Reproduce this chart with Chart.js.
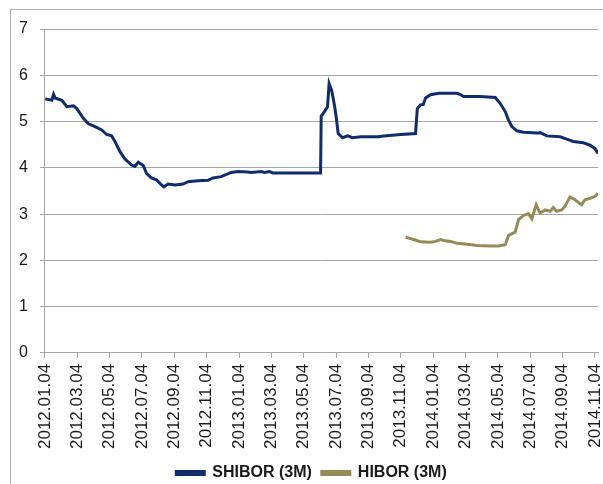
<!DOCTYPE html>
<html>
<head>
<meta charset="utf-8">
<script src="https://cdn.jsdelivr.net/npm/chart.js@4/dist/chart.umd.min.js"></script>
<style>
    body { margin: 0; background: #fff; }
    #frame { position: absolute; left: 10px; top: 9px; width: 620px; height: 500px; border: 1px solid #b0b0b0; }
    #wrap { position: absolute; left: 0; top: 0; width: 603px; height: 484px; }
</style>
</head>
<body>
<div id="frame"></div>
<div id="wrap"><canvas id="rateChart" width="603" height="484"></canvas></div>
<script>
// Tick labels on the date axis, one every two months
const tickLabels = ['2012.01.04', '2012.03.04', '2012.05.04', '2012.07.04', '2012.09.04', '2012.11.04',
    '2013.01.04', '2013.03.04', '2013.05.04', '2013.07.04', '2013.09.04', '2013.11.04',
    '2014.01.04', '2014.03.04', '2014.05.04', '2014.07.04', '2014.09.04', '2014.11.04'];

// SHIBOR (3M): months since 2012.01.04 and rate in %
const shiborMonths = [0.02, 0.43, 0.54, 0.63, 1.05, 1.36, 1.77, 1.97, 2.38, 2.69, 3.10, 3.51, 3.82, 4.12, 4.33,
    4.64, 4.95, 5.36, 5.56, 5.77, 6.08, 6.28, 6.59, 6.90, 7.21, 7.35, 7.62, 8.03, 8.54, 8.85, 9.47, 10.08,
    10.39, 10.90, 11.52, 11.93, 12.55, 12.75, 13.37, 13.57, 13.88, 14.09, 16.96, 17.04, 17.08, 17.27, 17.47,
    17.57, 17.72, 17.88, 17.99, 18.13, 18.40, 18.71, 19.01, 19.53, 20.65, 20.96, 21.99, 22.91, 23.02, 23.22,
    23.39, 23.53, 23.84, 24.35, 25.48, 25.69, 25.89, 26.92, 27.84, 28.15, 28.46, 28.66, 28.87, 29.18, 29.58,
    30.41, 30.61, 31.03, 31.85, 32.26, 32.66, 33.28, 33.69, 34.00, 34.19];
const shiborRates = [5.49, 5.46, 5.59, 5.51, 5.46, 5.32, 5.34, 5.28, 5.07, 4.95, 4.89, 4.82, 4.72, 4.69, 4.57,
    4.35, 4.19, 4.06, 4.03, 4.12, 4.05, 3.88, 3.78, 3.74, 3.63, 3.59, 3.65, 3.63, 3.65, 3.70, 3.72, 3.73,
    3.78, 3.81, 3.90, 3.92, 3.91, 3.90, 3.92, 3.90, 3.92, 3.89, 3.89, 3.89, 5.12, 5.21, 5.32,
    5.82, 5.68, 5.39, 5.14, 4.74, 4.65, 4.69, 4.65, 4.67, 4.67, 4.69, 4.72, 4.74, 5.28, 5.36,
    5.37, 5.51, 5.58, 5.61, 5.61, 5.58, 5.54, 5.54, 5.52, 5.39, 5.21, 5.03, 4.89, 4.80, 4.77,
    4.75, 4.76, 4.69, 4.67, 4.62, 4.57, 4.54, 4.49, 4.42, 4.31];

// HIBOR (3M)
const hiborMonths = [22.30, 22.61, 22.91, 23.22, 23.84, 24.15, 24.45, 24.66, 25.07, 25.48, 26.10, 26.71, 27.53,
    28.04, 28.46, 28.66, 29.07, 29.28, 29.58, 29.89, 30.10, 30.37, 30.61, 30.92, 31.23, 31.43, 31.64, 31.95,
    32.15, 32.46, 32.77, 33.18, 33.38, 33.69, 34.00, 34.19];
const hiborRates = [2.50, 2.47, 2.44, 2.40, 2.39, 2.41, 2.45, 2.43, 2.41, 2.37, 2.35, 2.32, 2.31,
    2.31, 2.34, 2.54, 2.61, 2.88, 2.97, 3.01, 2.90, 3.20, 3.02, 3.09, 3.06, 3.14, 3.06, 3.09,
    3.17, 3.37, 3.31, 3.20, 3.31, 3.34, 3.38, 3.45];

const toPoints = (xs, ys) => xs.map((x, i) => ({ x: x, y: ys[i] }));

const gridGrey = '#a6a6a6';
const textColour = '#1a1a1a';

// Nudge the legend to the right, it sits centred under the whole chart frame
const legendShift = {
    id: 'legendShift',
    afterLayout(chart) {
        chart.legend.left += 9;
        chart.legend.right += 9;
    }
};

const chartConfig = {
    type: 'line',
    data: {
        datasets: [{
            label: 'SHIBOR (3M)',
            data: toPoints(shiborMonths, shiborRates),
            borderColor: '#0f2c6c',
            backgroundColor: '#0f2c6c',
            borderWidth: 3,
            pointRadius: 0,
            tension: 0
        }, {
            label: 'HIBOR (3M)',
            data: toPoints(hiborMonths, hiborRates),
            borderColor: '#958b58',
            backgroundColor: '#958b58',
            borderWidth: 3,
            pointRadius: 0,
            tension: 0
        }]
    },
    options: {
        responsive: false,
        animation: false,
        layout: {
            padding: { left: 7, right: 5, top: 29, bottom: -7 }
        },
        scales: {
            x: {
                type: 'linear',
                min: 0,
                max: 34.19,
                // one tick per label, every two months
                afterBuildTicks: (axis) => {
                    axis.ticks = tickLabels.map((lbl, i) => ({ value: i * 2 }));
                },
                // let the last rotated label hang into the right margin
                afterFit: (axis) => {
                    axis.paddingRight = 0;
                },
                ticks: {
                    autoSkip: false,
                    minRotation: 90,
                    maxRotation: 90,
                    padding: 6,
                    color: textColour,
                    font: { family: 'Liberation Sans', size: 17 },
                    callback: (value) => tickLabels[Math.round(value / 2)]
                },
                grid: {
                    drawOnChartArea: false,
                    tickLength: 5,
                    color: gridGrey
                },
                border: { color: gridGrey }
            },
            y: {
                min: 0,
                max: 7,
                ticks: {
                    stepSize: 1,
                    padding: 12,
                    color: textColour,
                    font: { family: 'Liberation Sans', size: 16 }
                },
                grid: {
                    tickLength: 5,
                    color: gridGrey
                },
                border: { color: gridGrey }
            }
        },
        plugins: {
            legend: {
                display: true,
                position: 'bottom',
                labels: {
                    boxWidth: 28,
                    boxHeight: 3,
                    padding: 10,
                    color: textColour,
                    font: { family: 'Liberation Sans', size: 16, weight: 'bold' }
                }
            },
            tooltip: { enabled: false }
        }
    },
    plugins: [legendShift]
};

const rateChart = new Chart('rateChart', chartConfig);
</script>
</body>
</html>
